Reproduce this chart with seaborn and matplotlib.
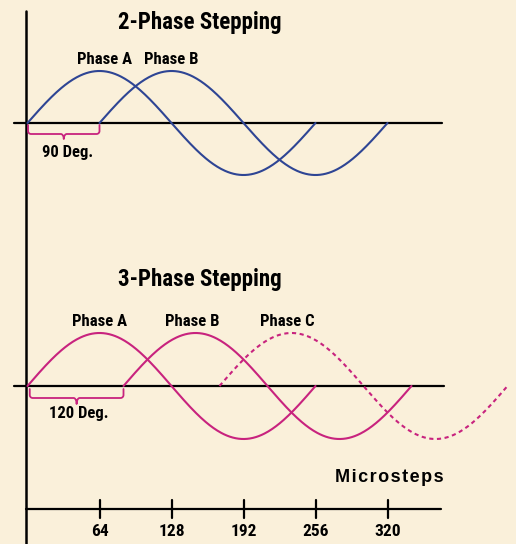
import numpy as np
import pandas as pd
import matplotlib
matplotlib.use("Agg")
import matplotlib.pyplot as plt
import seaborn as sns
from matplotlib import font_manager

# data
period = 256
two_phase_names = ["Phase A", "Phase B"]
two_phase_offsets = [0, 64]
three_phase_names = ["Phase A", "Phase B", "Phase C"]
three_phase_offsets = [0, 256 / 3, 512 / 3]
tick_values = [64, 128, 192, 256, 320]
tick_labels = ["64", "128", "192", "256", "320"]

bg = "#FAF0DA"
blue = "#2E4594"
pink = "#C8237E"

sns.set_style("white")
plt.rcParams["text.color"] = "black"

names = {f.name for f in font_manager.fontManager.ttflist}
narrow = [n for n in ["Liberation Sans Narrow", "Roboto Condensed", "Roboto"] if n in names] + ["DejaVu Sans"]

# layout (y in pixel rows, x in microsteps)
px = 1.125
base2, amp2 = 123, 52
base3, amp3 = 386, 53
label_shift2 = [5, 0]
label_shift3 = [0, -3, -4]


def waves(offsets, names, base, amp):
    rows = []
    for name, off in zip(names, offsets):
        x = np.linspace(off, off + period, 300)
        y = base - amp * np.sin(2 * np.pi * (x - off) / period)
        rows.append(pd.DataFrame({"x": x, "y": y, "phase": name}))
    return pd.concat(rows, ignore_index=True)


def brace(ax, x0, x1, y0, h, tip, color):
    r = 3.0
    rx = r / px
    xm = (x0 + x1) / 2
    t = np.linspace(0, np.pi / 2, 15)
    xs, ys = [], []
    xs += [x0]; ys += [y0]
    xs += list(x0 + rx - rx * np.cos(t)); ys += list(y0 + h - r + r * np.sin(t))
    xs += list(xm - rx + rx * np.sin(t)); ys += list(y0 + h + tip - tip * np.cos(t))
    xs += list(xm + rx - rx * np.cos(t)); ys += list(y0 + h + tip - tip * np.sin(t))
    xs += list(x1 - rx + rx * np.sin(t)); ys += list(y0 + h - r + r * np.cos(t))
    xs += [x1]; ys += [y0]
    ax.plot(xs, ys, color=color, lw=1.3, solid_capstyle="round")


def tx(pxx):
    return (pxx - 27.5) / px


fig = plt.figure(figsize=(5.16, 5.44), dpi=100)
fig.patch.set_facecolor(bg)
ax = fig.add_axes([0, 0, 1, 1])
ax.set_facecolor(bg)

# axes lines
ax.plot([-1.2, -1.2], [11, 544], color="black", lw=1.8)
ax.plot([-12, 368.5], [base2, base2], color="black", lw=1.6)
ax.plot([-12, 370], [base3, base3], color="black", lw=1.6)
ax.plot([-1.2, 367.5], [509, 509], color="black", lw=1.6)
for tv, tl in zip(tick_values, tick_labels):
    ax.plot([tv, tv], [500, 518], color="black", lw=1.6)
    ax.text(tv, 536.5, tl, ha="center", va="baseline", fontsize=12.5,
            fontweight="bold", family=narrow)
ax.text(tx(389), 482.5, "\u200a".join("Microsteps"), ha="center",
        va="baseline", fontsize=13, fontweight="bold",
        family=["Liberation Sans", "DejaVu Sans"])

# 2-phase
d2 = waves(two_phase_offsets, two_phase_names, base2, amp2)
sns.lineplot(data=d2, x="x", y="y", units="phase", estimator=None, sort=False,
             color=blue, lw=1.5, ax=ax)

# 3-phase
d3 = waves(three_phase_offsets, three_phase_names, base3, amp3)
solid = d3[d3["phase"] != "Phase C"]
dashed = d3[d3["phase"] == "Phase C"]
sns.lineplot(data=solid, x="x", y="y", units="phase", estimator=None, sort=False,
             color=pink, lw=1.5, ax=ax)
sns.lineplot(data=dashed, x="x", y="y", sort=False, estimator=None,
             color=pink, lw=1.5, ax=ax, linestyle=(0, (2.0, 1.7)))

ax.text(tx(200), 29.3, "2-Phase Stepping", ha="center", va="baseline",
        fontsize=16.5, fontweight="bold", family=narrow)
ax.text(tx(200), 286, "3-Phase Stepping", ha="center", va="baseline",
        fontsize=16.5, fontweight="bold", family=narrow)
for name, off, s in zip(two_phase_names, two_phase_offsets, label_shift2):
    ax.text(off + period / 4 + s / px, 64, name, ha="center", va="baseline",
            fontsize=12, fontweight="bold", family=narrow)
for name, off, s in zip(three_phase_names, three_phase_offsets, label_shift3):
    ax.text(off + period / 4 + s / px, 325.7, name, ha="center", va="baseline",
            fontsize=12, fontweight="bold", family=narrow)

brace(ax, 0.5, two_phase_offsets[1], base2 + 2, 9, 5, pink)
ax.text(two_phase_offsets[1] / 2 + 4 / px, 157, "90 Deg.", ha="center",
        va="baseline", fontsize=12, fontweight="bold", family=narrow)
brace(ax, 2, three_phase_offsets[1], base3 + 3, 9, 6, pink)
ax.text(three_phase_offsets[1] / 2 + 3 / px, 418, "120 Deg.", ha="center",
        va="baseline", fontsize=12, fontweight="bold", family=narrow)

ax.set_xlim(tx(0), tx(516))
ax.set_ylim(544, 0)
ax.axis("off")

fig.savefig("out.png", dpi=100, facecolor=bg)
